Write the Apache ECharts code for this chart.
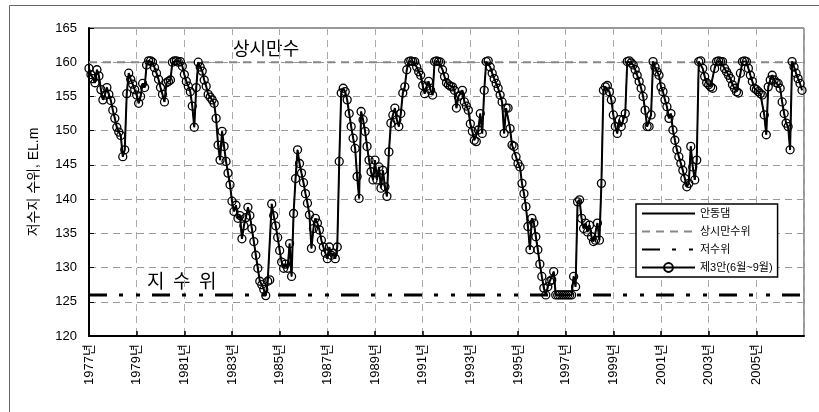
<!DOCTYPE html>
<html><head><meta charset="utf-8">
<script src="https://cdn.jsdelivr.net/npm/echarts@6/dist/echarts.min.js"></script>
<style>html,body{margin:0;padding:0;background:#fff}#c{width:819px;height:412px}</style>
</head><body><div id="c"></div>
<script>
// ---- data (monthly reservoir water level, EL.m) ----
const startYear = 1977;
const monthsTotal = 360;          // Jan 1977 .. Dec 2006
const yearTickStepMonths = 24;    // tick every 2 years
const yMin = 120, yMax = 165, yStep = 5;
const normalHighLevel = 160;      // 상시만수위
const lowWaterLevel = 126;        // 저수위
const seriesNames = ['안동댐', '상시만수위', '저수위', '제3안(6월~9월)'];

const levels1977to1986 = [
  159.1,158.2,157.6,157.0,158.9,158.0,156.0,154.5,155.2,156.3,155.3,154.4,
  153.0,151.8,150.5,149.8,149.3,146.2,147.2,155.4,158.4,157.5,156.8,156.0,
  155.2,154.0,155.0,156.9,156.3,159.6,160.2,160.2,160.0,159.2,158.4,157.5,
  156.3,155.3,154.2,157.0,157.2,157.4,160.0,160.2,160.2,160.0,160.1,159.4,
  158.2,157.2,156.5,155.7,153.6,150.5,156.3,160.0,159.3,158.7,157.4,156.5,
  155.3,154.9,154.5,154.0,151.8,147.9,145.7,149.9,147.7,145.5,143.8,142.1,
  139.7,138.2,139.1,137.2,137.6,134.2,136.1,137.3,138.8,137.6,135.7,133.8,
  131.8,129.9,128.0,127.5,126.8,125.9,128.0,128.2,139.3,137.6,136.1,134.4,
  132.5,130.8,129.9,130.5,129.9,133.5,128.7,137.9,143.0,147.2,145.2,143.8,
  142.4,140.8,139.4,137.7,132.8,135.7,137.2,136.5,135.5,134.0,133.0,132.1
];
const levels1987to1996 = [
  131.3,133.0,131.8,132.1,131.3,133.0,145.5,155.5,156.2,155.7,154.5,152.5,
  150.6,148.9,147.4,143.3,140.1,152.8,151.6,149.9,147.7,145.7,144.0,142.8,
  145.7,142.8,144.7,141.6,144.2,141.8,140.4,146.9,151.1,152.3,153.3,151.6,
  150.6,152.5,155.5,156.4,158.9,160.1,160.2,160.1,160.1,159.3,158.6,158.1,
  156.6,155.4,156.5,157.2,155.9,155.2,160.1,160.2,160.1,160.0,158.9,157.9,
  157.0,156.7,156.5,156.4,155.9,153.3,155.0,155.2,155.9,154.2,153.6,153.0,
  151.0,149.9,148.6,148.4,150.1,152.5,149.6,155.9,160.1,160.2,159.3,158.4,
  157.6,156.9,156.2,155.2,154.2,149.6,153.3,153.3,150.3,147.9,147.7,146.2,
  145.2,144.7,142.3,140.8,138.9,136.0,132.6,137.2,136.5,134.5,132.6,130.5,
  128.7,127.0,126.0,127.2,128.0,128.2,129.4,126.0,126.0,126.0,126.0,126.0
];
const levels1997to2006 = [
  126.0,126.0,126.0,126.0,128.7,127.2,139.6,139.9,137.2,135.7,136.5,135.2,
  136.2,134.5,133.8,134.0,136.5,134.0,142.3,155.9,156.4,156.6,155.7,154.5,
  152.3,150.6,149.6,151.6,150.6,151.6,152.5,160.1,160.2,159.9,159.6,158.9,
  158.1,157.2,156.2,155.0,153.0,150.6,150.6,152.3,160.1,159.3,158.6,158.1,
  156.4,155.7,154.5,153.5,151.8,152.5,150.1,148.6,147.2,146.2,145.2,144.2,
  143.0,141.8,142.3,147.7,144.7,142.8,145.7,160.1,160.2,159.1,157.9,157.0,
  156.7,156.4,156.2,159.1,160.1,160.2,160.1,160.1,159.1,158.6,158.1,157.6,
  156.7,156.2,155.7,155.5,158.4,160.1,160.2,160.1,159.1,158.1,157.2,156.2,
  156.0,155.7,155.4,155.2,152.3,149.4,156.4,157.4,158.1,157.4,157.0,156.9,
  156.2,154.2,152.5,151.1,150.6,147.2,160.1,159.3,158.4,157.6,156.9,155.9
];

// ---- build ----
const levels = [].concat(levels1977to1986, levels1987to1996, levels1997to2006);
const monthly = levels.map((v, i) => [i, v]);
const FONT = "'Liberation Sans','Noto Sans CJK KR',sans-serif";
const hiddenSymbol = {opacity: 0};

const chart = echarts.init(document.getElementById('c'), null, {renderer: 'canvas'});
chart.setOption({
  animation: false,
  textStyle: {fontFamily: FONT},
  grid: {left: 89, top: 28, right: 15, bottom: 76, show: true, borderColor: '#333', borderWidth: 1},
  xAxis: {
    type: 'value', min: 0, max: monthsTotal, interval: yearTickStepMonths,
    axisLine: {lineStyle: {color: '#000', width: 2}},
    axisTick: {inside: true, length: 5, lineStyle: {color: '#000', width: 1.5}},
    axisLabel: {
      rotate: 90, fontSize: 13, color: '#000', margin: 8, fontFamily: FONT,
      showMaxLabel: false,
      formatter: v => v >= monthsTotal ? '' : (startYear + v / 12) + '년'
    },
    splitLine: {show: true, lineStyle: {type: [7, 5], color: '#aaa', width: 1}}
  },
  yAxis: {
    type: 'value', min: yMin, max: yMax, interval: yStep,
    name: '저수지 수위, EL.m', nameLocation: 'middle', nameGap: 48,
    nameTextStyle: {fontSize: 14, color: '#000', fontFamily: FONT},
    axisLine: {show: true, lineStyle: {color: '#000', width: 2}},
    axisTick: {show: true, inside: true, length: 5, lineStyle: {color: '#000'}},
    axisLabel: {fontSize: 13, color: '#000', margin: 12, fontFamily: FONT},
    splitLine: {show: true, lineStyle: {type: [7, 5], color: '#999', width: 1}}
  },
  legend: {
    orient: 'vertical', left: 636, top: 204,
    backgroundColor: '#fff', borderColor: '#000', borderWidth: 1.5, borderRadius: 0,
    padding: [4, 5, 4, 5], itemWidth: 53, itemHeight: 11, itemGap: 7,
    textStyle: {fontSize: 11, color: '#000', fontFamily: FONT},
    data: [
      {name: seriesNames[0], itemStyle: hiddenSymbol},
      {name: seriesNames[1], itemStyle: hiddenSymbol},
      {name: seriesNames[2], itemStyle: hiddenSymbol},
      {name: seriesNames[3]}
    ]
  },
  graphic: [
    {type: 'rect', silent: true, shape: {x: 9.5, y: 5.5, width: 900, height: 500},
     style: {fill: 'none', stroke: '#666', lineWidth: 1}},
    {type: 'text', left: 233, top: 39, silent: true,
     style: {text: '상시만수', fill: '#000', font: "18px 'Noto Sans CJK KR'"}},
    {type: 'text', left: 147, top: 271, silent: true,
     style: {text: '지  수  위', fill: '#000', font: "19px 'Noto Sans CJK KR'"}}
  ],
  series: [
    {name: seriesNames[0], type: 'line', data: monthly, symbol: 'none', z: 3,
     lineStyle: {color: '#000', width: 2}, itemStyle: {color: '#000'}},
    {name: seriesNames[1], type: 'line', data: [[0, normalHighLevel], [monthsTotal, normalHighLevel]],
     symbol: 'none', z: 2, lineStyle: {color: '#888', width: 2, type: [8, 6]}, itemStyle: {color: '#888'}},
    {name: seriesNames[2], type: 'line', data: [[0, lowWaterLevel], [monthsTotal, lowWaterLevel]],
     symbol: 'none', z: 2, lineStyle: {color: '#000', width: 3, type: [18, 12, 4, 13, 4, 12]}, itemStyle: {color: '#000'}},
    {name: seriesNames[3], type: 'line', data: monthly, symbol: 'circle', symbolSize: 8, showAllSymbol: true, z: 4,
     lineStyle: {color: '#000', width: 1},
     itemStyle: {color: 'rgba(0,0,0,0)', borderColor: '#000', borderWidth: 1.3}}
  ]
});
</script></body></html>
